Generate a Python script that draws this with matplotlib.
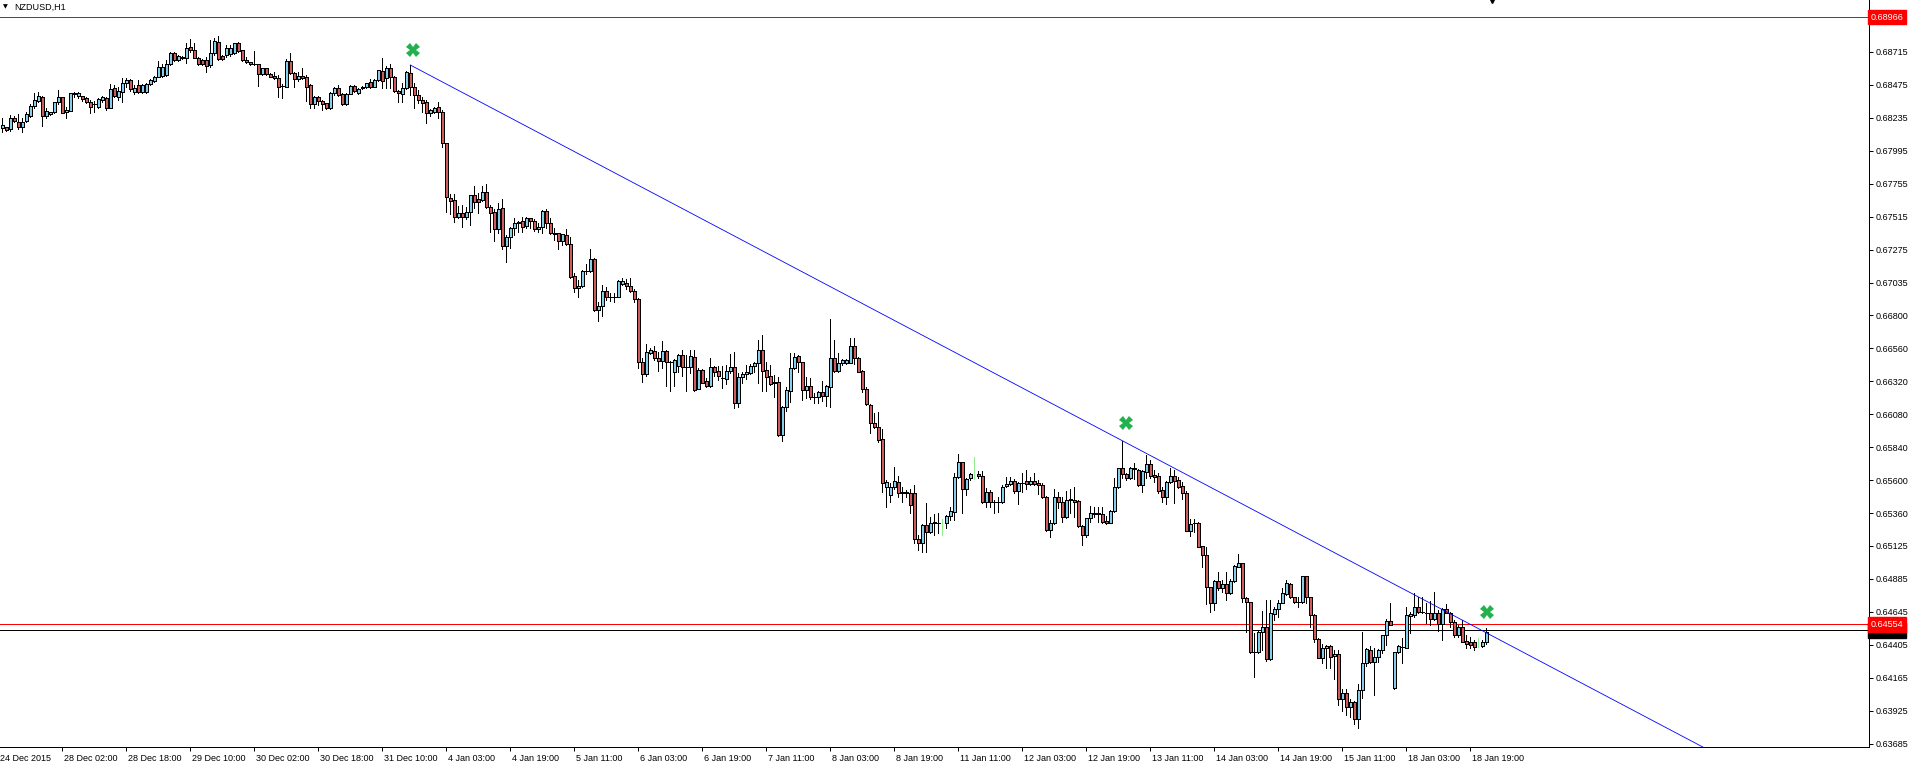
import matplotlib.pyplot as plt
import numpy as np
from matplotlib.transforms import ScaledTranslation

plt.rcParams['font.family'] = ['Liberation Sans', 'DejaVu Sans']

symbol = 'NZDUSD,H1'

# H1 candles, prices in points (1e-5), 16 bars per row
open_pts = [
    68158, 68165, 68153, 68236, 68207, 68170, 68214, 68250, 68320, 68359, 68388, 68248, 68260, 68274, 68347, 68383,
    68274, 68287, 68413, 68396, 68391, 68381, 68352, 68333, 68313, 68364, 68381, 68308, 68454, 68388, 68425, 68485,
    68509, 68425, 68473, 68425, 68425, 68478, 68502, 68534, 68541, 68546, 68623, 68703, 68655, 68667, 68667, 68747,
    68727, 68667, 68655, 68655, 68618, 68703, 68788, 68686, 68691, 68696, 68703, 68776, 68727, 68655, 68638, 68623,
    68623, 68551, 68594, 68553, 68541, 68526, 68466, 68461, 68647, 68558, 68517, 68538, 68534, 68473, 68333, 68386,
    68357, 68340, 68304, 68417, 68449, 68408, 68333, 68408, 68468, 68413, 68449, 68456, 68492, 68461, 68509, 68575,
    68521, 68599, 68534, 68429, 68408, 68449, 68558, 68457, 68401, 68365, 68353, 68268, 68275, 68311, 68275, 68050,
    67650, 67638, 67517, 67541, 67512, 67553, 67672, 67645, 67638, 67694, 67590, 67548, 67425, 67578, 67306, 67367,
    67432, 67469, 67485, 67452, 67505, 67488, 67427, 67444, 67558, 67469, 67396, 67396, 67343, 67384, 67318, 67086,
    66996, 67013, 67125, 67125, 67210, 66839, 66868, 66979, 66936, 66933, 66936, 67028, 67038, 67016, 66979, 66916,
    66459, 66371, 66529, 66541, 66488, 66471, 66541, 66464, 66391, 66432, 66512, 66427, 66427, 66500, 66263, 66403,
    66325, 66287, 66422, 66398, 66342, 66335, 66398, 66422, 66161, 66350, 66374, 66384, 66432, 66451, 66548, 66402,
    66359, 66318, 66318, 65930, 66131, 66252, 66414, 66504, 66463, 66257, 66286, 66209, 66209, 66243, 66213, 66281,
    66487, 66398, 66451, 66456, 66456, 66577, 66487, 66395, 66262, 66148, 66015, 65986, 65899, 65550, 65494, 65550,
    65591, 65506, 65514, 65506, 65506, 65174, 65143, 65274, 65228, 65288, 65293, 65293, 65293, 65342, 65368, 65622,
    65731, 65535, 65615, 65647, 65647, 65632, 65441, 65514, 65446, 65446, 65446, 65559, 65572, 65596, 65523, 65584,
    65596, 65572, 65596, 65579, 65567, 65477, 65240, 65288, 65477, 65446, 65332, 65458, 65458, 65451, 65271, 65204,
    65325, 65361, 65361, 65356, 65308, 65293, 65378, 65550, 65688, 65647, 65615, 65688, 65676, 65567, 65664, 65719,
    65639, 65632, 65530, 65477, 65591, 65632, 65603, 65559, 65511, 65235, 65288, 65293, 65124, 65058, 64823, 64712,
    64869, 64816, 64847, 64780, 64872, 64973, 64998, 64743, 64714, 64351, 64351, 64496, 64532, 64300, 64629, 64663,
    64712, 64775, 64847, 64751, 64714, 64714, 64906, 64755, 64622, 64450, 64312, 64380, 64397, 64324, 64339, 64009,
    64058, 63951, 63992, 63864, 64077, 64276, 64368, 64283, 64315, 64368, 64477, 64578, 64089, 64351, 64392, 64385,
    64617, 64622, 64678, 64644, 64639, 64634, 64591, 64639, 64557, 64663, 64639, 64569, 64477, 64532, 64433, 64424,
    64424, 64392, 64397, 64428,
]
high_pts = [
    68236, 68170, 68255, 68250, 68260, 68231, 68279, 68333, 68413, 68425, 68393, 68308, 68279, 68352, 68434, 68386,
    68316, 68415, 68425, 68425, 68396, 68386, 68364, 68357, 68376, 68396, 68386, 68478, 68473, 68461, 68526, 68526,
    68517, 68473, 68509, 68478, 68485, 68514, 68541, 68647, 68623, 68655, 68715, 68710, 68691, 68684, 68776, 68805,
    68776, 68679, 68662, 68679, 68800, 68812, 68829, 68691, 68764, 68764, 68781, 68788, 68730, 68679, 68642, 68720,
    68626, 68599, 68599, 68558, 68570, 68546, 68478, 68660, 68703, 68570, 68565, 68599, 68546, 68478, 68396, 68396,
    68364, 68345, 68420, 68461, 68473, 68415, 68413, 68470, 68473, 68449, 68466, 68490, 68517, 68514, 68585, 68667,
    68614, 68623, 68538, 68437, 68486, 68578, 68619, 68486, 68437, 68389, 68365, 68297, 68311, 68353, 68292, 68050,
    67682, 67682, 67595, 67602, 67590, 67677, 67740, 67687, 67740, 67754, 67602, 67570, 67614, 67645, 67384, 67440,
    67505, 67488, 67517, 67517, 67510, 67498, 67473, 67565, 67570, 67505, 67432, 67401, 67391, 67425, 67372, 67105,
    67057, 67130, 67171, 67280, 67214, 66899, 67020, 67004, 66960, 66960, 67057, 67069, 67062, 67069, 66989, 66924,
    66488, 66592, 66560, 66577, 66536, 66614, 66548, 66471, 66481, 66517, 66548, 66512, 66548, 66548, 66415, 66408,
    66342, 66488, 66432, 66432, 66432, 66439, 66519, 66536, 66384, 66391, 66439, 66446, 66463, 66621, 66657, 66463,
    66439, 66366, 66349, 66141, 66276, 66523, 66528, 66511, 66463, 66349, 66342, 66238, 66252, 66325, 66293, 66773,
    66620, 66528, 66485, 66480, 66632, 66632, 66499, 66402, 66276, 66155, 66088, 66100, 65971, 65603, 65579, 65700,
    65632, 65555, 65530, 65535, 65567, 65204, 65283, 65438, 65337, 65356, 65361, 65317, 65349, 65409, 65656, 65792,
    65736, 65615, 65652, 65768, 65671, 65671, 65543, 65530, 65458, 65482, 65567, 65627, 65622, 65608, 65591, 65656,
    65676, 65627, 65656, 65603, 65584, 65487, 65312, 65535, 65518, 65482, 65525, 65535, 65555, 65458, 65276, 65325,
    65414, 65405, 65405, 65409, 65342, 65385, 65615, 65688, 65889, 65652, 65700, 65724, 65681, 65676, 65785, 65748,
    65676, 65651, 65555, 65596, 65688, 65676, 65627, 65591, 65523, 65317, 65317, 65300, 65124, 65119, 64828, 64876,
    64937, 64876, 64937, 64881, 64985, 65065, 65002, 64751, 64719, 64489, 64513, 64654, 64731, 64731, 64683, 64731,
    64816, 64876, 64852, 64756, 64755, 64906, 64906, 64755, 64627, 64452, 64411, 64404, 64404, 64368, 64368, 64082,
    64082, 64009, 64000, 64118, 64501, 64380, 64397, 64380, 64373, 64477, 64591, 64712, 64356, 64404, 64453, 64683,
    64646, 64780, 64751, 64751, 64712, 64727, 64792, 64658, 64671, 64702, 64646, 64586, 64549, 64586, 64477, 64465,
    64441, 64453, 64441, 64525,
]
low_pts = [
    68134, 68139, 68139, 68207, 68153, 68134, 68207, 68243, 68304, 68352, 68175, 68231, 68255, 68272, 68335, 68267,
    68236, 68284, 68388, 68376, 68357, 68340, 68267, 68274, 68308, 68352, 68291, 68304, 68388, 68364, 68352, 68461,
    68432, 68405, 68413, 68413, 68415, 68473, 68492, 68529, 68534, 68538, 68618, 68647, 68650, 68662, 68630, 68715,
    68667, 68618, 68618, 68570, 68606, 68691, 68655, 68655, 68679, 68686, 68700, 68715, 68650, 68630, 68618, 68621,
    68468, 68546, 68548, 68529, 68514, 68388, 68376, 68461, 68551, 68461, 68502, 68514, 68357, 68308, 68308, 68328,
    68291, 68300, 68300, 68400, 68396, 68328, 68328, 68405, 68425, 68408, 68446, 68452, 68454, 68456, 68505, 68449,
    68449, 68449, 68425, 68347, 68353, 68442, 68401, 68304, 68340, 68280, 68200, 68248, 68268, 68231, 68021, 67553,
    67536, 67481, 67505, 67444, 67500, 67457, 67578, 67546, 67633, 67578, 67408, 67343, 67396, 67280, 67185, 67287,
    67384, 67408, 67408, 67432, 67432, 67415, 67408, 67401, 67432, 67391, 67348, 67282, 67311, 67311, 67074, 66972,
    66936, 67004, 67100, 67117, 66834, 66761, 66798, 66912, 66907, 66899, 66931, 67020, 66989, 66972, 66899, 66415,
    66318, 66359, 66519, 66476, 66398, 66415, 66289, 66253, 66289, 66391, 66359, 66253, 66384, 66253, 66263, 66306,
    66277, 66282, 66359, 66330, 66270, 66301, 66384, 66124, 66136, 66306, 66335, 66374, 66391, 66306, 66252, 66252,
    66293, 66209, 65923, 65889, 66104, 66172, 66407, 66390, 66185, 66197, 66192, 66160, 66165, 66177, 66141, 66136,
    66390, 66390, 66441, 66446, 66451, 66446, 66390, 66245, 66148, 65942, 65981, 65882, 65518, 65409, 65446, 65535,
    65482, 65446, 65482, 65366, 65148, 65094, 65082, 65078, 65216, 65204, 65216, 65204, 65252, 65312, 65312, 65615,
    65361, 65494, 65603, 65608, 65615, 65438, 65409, 65405, 65366, 65373, 65438, 65555, 65567, 65511, 65429, 65518,
    65535, 65567, 65567, 65501, 65470, 65235, 65191, 65283, 65397, 65300, 65325, 65361, 65337, 65264, 65131, 65191,
    65300, 65332, 65300, 65293, 65283, 65288, 65373, 65543, 65615, 65603, 65610, 65608, 65562, 65518, 65615, 65615,
    65591, 65506, 65446, 65426, 65579, 65434, 65542, 65465, 65230, 65196, 65228, 65114, 64973, 64702, 64646, 64658,
    64804, 64792, 64731, 64775, 64864, 64968, 64719, 64501, 64344, 64169, 64344, 64368, 64290, 64295, 64586, 64610,
    64707, 64768, 64743, 64707, 64683, 64712, 64707, 64537, 64428, 64307, 64276, 64235, 64235, 64155, 63968, 63927,
    63896, 63879, 63830, 63799, 64017, 64252, 64276, 64041, 64283, 64344, 64404, 64547, 64082, 64344, 64271, 64380,
    64489, 64610, 64639, 64634, 64562, 64549, 64586, 64508, 64440, 64634, 64537, 64465, 64465, 64428, 64380, 64380,
    64368, 64387, 64387, 64411,
]
close_pts = [
    68182, 68146, 68236, 68214, 68165, 68207, 68260, 68320, 68364, 68393, 68248, 68284, 68274, 68347, 68383, 68272,
    68291, 68413, 68408, 68413, 68371, 68347, 68316, 68333, 68371, 68388, 68304, 68442, 68393, 68429, 68485, 68509,
    68442, 68454, 68425, 68473, 68478, 68509, 68534, 68601, 68601, 68626, 68703, 68655, 68684, 68679, 68744, 68727,
    68667, 68623, 68626, 68614, 68703, 68795, 68662, 68662, 68739, 68744, 68776, 68723, 68655, 68638, 68623, 68623,
    68551, 68594, 68553, 68534, 68521, 68461, 68466, 68647, 68558, 68517, 68541, 68521, 68461, 68333, 68388, 68357,
    68333, 68304, 68417, 68449, 68400, 68333, 68408, 68466, 68429, 68446, 68461, 68485, 68461, 68509, 68582, 68502,
    68599, 68529, 68429, 68413, 68449, 68566, 68457, 68401, 68365, 68345, 68268, 68292, 68304, 68275, 68050, 67657,
    67633, 67517, 67541, 67512, 67553, 67674, 67621, 67621, 67694, 67585, 67546, 67425, 67570, 67306, 67367, 67432,
    67469, 67478, 67444, 67505, 67485, 67425, 67444, 67558, 67469, 67396, 67394, 67343, 67391, 67318, 67081, 66996,
    67013, 67125, 67123, 67207, 66839, 66868, 66979, 66936, 66931, 66936, 67050, 67050, 67013, 66977, 66916, 66459,
    66371, 66536, 66548, 66488, 66471, 66541, 66459, 66464, 66476, 66512, 66422, 66427, 66505, 66258, 66403, 66311,
    66287, 66422, 66391, 66359, 66342, 66398, 66422, 66161, 66350, 66374, 66391, 66432, 66451, 66548, 66398, 66354,
    66301, 66306, 65930, 66131, 66257, 66414, 66499, 66463, 66257, 66286, 66209, 66204, 66245, 66213, 66286, 66487,
    66395, 66456, 66475, 66475, 66577, 66487, 66390, 66262, 66155, 66015, 65986, 65894, 65584, 65591, 65550, 65596,
    65506, 65514, 65506, 65421, 65172, 65143, 65274, 65228, 65293, 65298, 65293, 65308, 65342, 65378, 65627, 65731,
    65535, 65610, 65647, 65647, 65632, 65441, 65514, 65446, 65446, 65446, 65555, 65574, 65596, 65523, 65584, 65584,
    65572, 65596, 65572, 65567, 65477, 65240, 65288, 65477, 65441, 65332, 65458, 65463, 65441, 65271, 65204, 65325,
    65361, 65356, 65354, 65300, 65288, 65378, 65550, 65688, 65647, 65615, 65688, 65681, 65567, 65671, 65719, 65635,
    65627, 65526, 65477, 65591, 65632, 65598, 65555, 65506, 65235, 65281, 65293, 65119, 65058, 64823, 64712, 64869,
    64816, 64847, 64780, 64872, 64978, 64998, 64743, 64719, 64351, 64351, 64501, 64532, 64300, 64634, 64666, 64712,
    64780, 64852, 64751, 64714, 64719, 64906, 64755, 64622, 64445, 64312, 64380, 64397, 64319, 64339, 64009, 64053,
    63951, 63992, 63864, 64077, 64271, 64373, 64283, 64315, 64368, 64477, 64578, 64549, 64351, 64397, 64392, 64622,
    64627, 64678, 64646, 64644, 64634, 64591, 64639, 64557, 64663, 64639, 64569, 64477, 64532, 64428, 64411, 64404,
    64392, 64392, 64428, 64501,
]

# bars drawn in the light green line colour instead of a candle
light_bars = [235, 243, 369]

first_label = '24 Dec 2015'
date_labels = ['28 Dec 02:00', '28 Dec 18:00', '29 Dec 10:00', '30 Dec 02:00', '30 Dec 18:00',
               '31 Dec 10:00', '4 Jan 03:00', '4 Jan 19:00', '5 Jan 11:00', '6 Jan 03:00',
               '6 Jan 19:00', '7 Jan 11:00', '8 Jan 03:00', '8 Jan 19:00', '11 Jan 11:00',
               '12 Jan 03:00', '12 Jan 19:00', '13 Jan 11:00', '14 Jan 03:00', '14 Jan 19:00',
               '15 Jan 11:00', '18 Jan 03:00', '18 Jan 19:00']
first_tick_bar = 15
bars_per_label = 16

price_ticks = [0.68715, 0.68475, 0.68235, 0.67995, 0.67755, 0.67515, 0.67275, 0.67035,
               0.66800, 0.66560, 0.66320, 0.66080, 0.65840, 0.65600, 0.65360, 0.65125,
               0.64885, 0.64645, 0.64405, 0.64165, 0.63925, 0.63685]

# trend line anchors (bar index, price), drawn as a ray to the right
trend_bars = [102, 280]
trend_prices = [0.68619, 0.65889]

# green cross marks
mark_bars = [102.6, 281.0, 371.1]
mark_prices = [0.68728, 0.66015, 0.64642]

top_line = 0.68966
ask_line = 0.64554
bid_line = 0.64510

bull_color = '#87CEEB'
bear_color = '#CD5C5C'
light_color = '#90EE90'

# ---------------------------------------------------------------------------
o = np.array(open_pts) / 1e5
h = np.array(high_pts) / 1e5
l = np.array(low_pts) / 1e5
c = np.array(close_pts) / 1e5
assert len(o) == len(h) == len(l) == len(c)
h = np.maximum(h, np.maximum(o, c))
l = np.minimum(l, np.minimum(o, c))
x = np.arange(len(o))
up = c >= o

W, H = 1911, 767
fig = plt.figure(figsize=(W / 100, H / 100), dpi=100)
ax = fig.add_axes([0, 1 - 747 / H, 1869 / W, 747 / H])
ax.set_xlim(-0.55, 466.7)
ax.set_ylim(0.63663, 0.69091)

is_light = np.isin(x, light_bars)
wick_colors = np.where(is_light, light_color, 'black')
ax.vlines(x, l, h, colors=wick_colors, linewidth=0.6, zorder=2, antialiased=False)

normal = ~is_light
body_colors = np.where(up, bull_color, bear_color)
ax.bar(x[normal], np.abs(c - o)[normal], bottom=np.minimum(o, c)[normal], width=0.78,
       color=body_colors[normal], edgecolor='black', linewidth=0.45, zorder=3, antialiased=False)

# horizontal lines
ax.axhline(top_line, color='red', linewidth=0.5, zorder=1, antialiased=False)
ax.axhline(ask_line, color='red', linewidth=0.5, zorder=1, antialiased=False)
ax.axhline(bid_line, color='black', linewidth=0.5, zorder=1, antialiased=False)

# trend line ray
slope = (trend_prices[1] - trend_prices[0]) / (trend_bars[1] - trend_bars[0])
ray_x = np.array([trend_bars[0], 480])
ax.plot(ray_x, trend_prices[0] + slope * (ray_x - trend_bars[0]), color='#0000FF',
        linewidth=0.6, zorder=4)

ax.plot(mark_bars, mark_prices, linestyle='none', marker='X', markersize=9.5,
        color='#22B14C', markeredgewidth=0, zorder=5)

# axes look
for side in ['left', 'top']:
    ax.spines[side].set_visible(False)
for side in ['right', 'bottom']:
    ax.spines[side].set_linewidth(0.72)
ax.yaxis.tick_right()
ax.set_yticks(price_ticks)
ax.set_yticklabels([f'{v:.5f}' for v in price_ticks])
ax.tick_params(axis='y', length=3, width=0.72, pad=1.5, labelsize=6.5)

tick_bars = [first_tick_bar + bars_per_label * i for i in range(len(date_labels))]
ax.set_xticks(tick_bars)
ax.set_xticklabels(date_labels)
ax.tick_params(axis='x', length=3, width=0.72, pad=2, labelsize=6.5)
shift = ScaledTranslation(1.5 / 72, 0, fig.dpi_scale_trans)
for lbl in ax.get_xticklabels():
    lbl.set_horizontalalignment('left')
    lbl.set_transform(lbl.get_transform() + shift)
ax.annotate(first_label, xy=(-0.55, 0), xycoords=('data', 'axes fraction'),
            xytext=(0, -5), textcoords='offset points', ha='left', va='top', fontsize=6.5)


def price_tag(value, face):
    ax.text(1.001, value, f'{value:.5f}', transform=ax.get_yaxis_transform(),
            ha='left', va='center', fontsize=6.5, color='white', zorder=10, clip_on=False,
            bbox=dict(boxstyle='square,pad=0.3', facecolor=face, edgecolor=face))


price_tag(top_line, 'red')
price_tag(bid_line, 'black')
price_tag(ask_line, 'red')

# symbol caption and chart shift marker
fig.text(3 / W, 1 - 7 / H, '\u25bc', fontsize=4.5, va='center', ha='left', family='DejaVu Sans')
fig.text(14 / W, 1 - 7 / H, symbol, fontsize=6.5, va='center', ha='left')
ax.plot([len(o) + 0.5], [0.69091], marker='v', color='black', markersize=5, clip_on=False, zorder=6)

fig.savefig('out.png', dpi=100, facecolor='white')
